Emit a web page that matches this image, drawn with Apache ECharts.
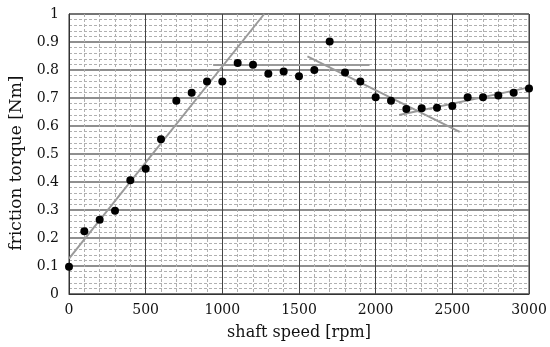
<!DOCTYPE html>
<html><head><meta charset="utf-8">
<script src="https://cdn.jsdelivr.net/npm/echarts@6/dist/echarts.min.js"></script>
<style>html,body{margin:0;padding:0;background:#fff}#c{width:550px;height:347px}</style>
</head><body><div id="c"></div>
<script>
const speeds = [0,100,200,300,400,500,600,700,800,900,1000,1100,1200,1300,1400,1500,1600,1700,1800,1900,2000,2100,2200,2300,2400,2500,2600,2700,2800,2900,3000];
const torque = [0.097,0.224,0.265,0.297,0.406,0.447,0.553,0.690,0.719,0.759,0.759,0.825,0.819,0.787,0.795,0.778,0.800,0.902,0.791,0.759,0.703,0.690,0.661,0.663,0.665,0.671,0.703,0.703,0.709,0.719,0.734];
const fit1 = [[0,0.126],[1273,1.0]];
const fit2 = [[940,0.818],[1960,0.818]];
const fit3 = [[1555,0.849],[2548,0.579]];
const fit4 = [[2153,0.639],[3000,0.738]];
const xTicks = [0,500,1000,1500,2000,2500,3000];
const yTicks = [0,0.1,0.2,0.3,0.4,0.5,0.6,0.7,0.8,0.9,1];

const font = 'DejaVu Serif';
const chart = echarts.init(document.getElementById('c'));
const fitStyle = {type:'line', symbol:'none', lineStyle:{color:'#9a9a9a', width:2}, silent:true, z:2};
chart.setOption({
  animation:false,
  grid:{left:68, right:21, top:14, bottom:53, show:true, borderColor:'#333', borderWidth:1},
  xAxis:{
    type:'value', min:0, max:3000, interval:500,
    name:'shaft speed [rpm]', nameLocation:'middle', nameGap:31,
    nameTextStyle:{fontFamily:font, fontSize:16, color:'#111'},
    axisLine:{show:true, lineStyle:{color:'#333'}}, axisTick:{show:false},
    axisLabel:{fontFamily:font, fontSize:14, color:'#111', margin:9, formatter:v=>xTicks.includes(v)?String(v):''},
    splitLine:{show:true, lineStyle:{color:'#444', width:1}},
    minorTick:{show:false, splitNumber:5},
    minorSplitLine:{show:true, lineStyle:{color:'#b0b0b0', width:1, type:[3,2]}}
  },
  yAxis:{
    type:'value', min:0, max:1, interval:0.1,
    name:'friction torque [Nm]', nameLocation:'middle', nameGap:44,
    nameTextStyle:{fontFamily:font, fontSize:17, color:'#111', padding:[0,18,0,0]},
    axisLine:{show:true, lineStyle:{color:'#333'}}, axisTick:{show:false},
    axisLabel:{fontFamily:font, fontSize:14, color:'#111', margin:10, formatter:v=>{const t=yTicks.find(a=>Math.abs(a-v)<1e-6);return t===undefined?'':String(t);}},
    splitLine:{show:true, lineStyle:{color:'#6a6a6a', width:1.5}},
    minorTick:{show:false, splitNumber:5},
    minorSplitLine:{show:true, lineStyle:{color:'#b0b0b0', width:1, type:[3,2]}}
  },
  series:[
    Object.assign({data:fit1}, fitStyle),
    Object.assign({data:fit2}, fitStyle),
    Object.assign({data:fit3}, fitStyle),
    Object.assign({data:fit4}, fitStyle),
    {type:'scatter', data:speeds.map((s,i)=>[s,torque[i]]), symbol:'circle', symbolSize:8, itemStyle:{color:'#000', opacity:1}, z:5, clip:false}
  ]
});
</script></body></html>
